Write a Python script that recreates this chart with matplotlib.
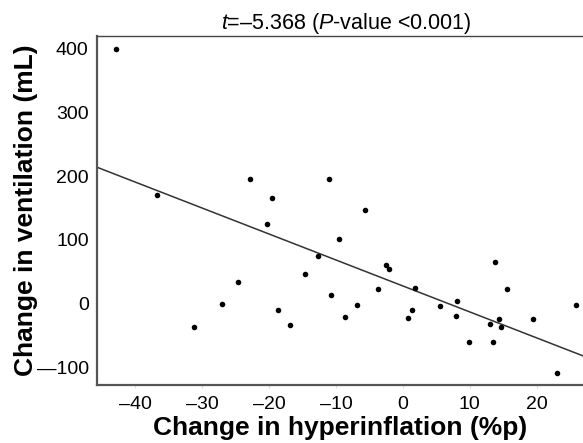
import matplotlib
matplotlib.use("Agg")
import matplotlib.pyplot as plt
import numpy as np

plt.rcParams['font.family'] = ['Liberation Sans', 'DejaVu Sans']
plt.rcParams['mathtext.fontset'] = 'custom'
plt.rcParams['mathtext.rm'] = 'Liberation Sans'
plt.rcParams['mathtext.it'] = 'Liberation Sans:italic'

# Data
hyperinflation = [-42.8, -36.7, -22.9, -19.5, -11.1, -5.7, -20.3, -9.6, -12.7, -14.6,
                  -24.6, -10.8, -27.1, -6.9, -18.7, -8.6, -16.8, -31.2, -2.5, -2.1,
                  -3.7, 1.8, 1.4, 0.8, 5.5, 8.1, 8.0, 9.9, 13.7, 15.6,
                  13.0, 14.3, 14.6, 13.4, 19.4, 23.0, 25.9]
ventilation = [400, 170, 195, 166, 195, 147, 125, 102, 75, 47,
               34, 14, -1, -2, -10.5, -21, -33, -37, 61, 54,
               23, 24, -10.5, -22.5, -4, 4.7, -20, -61, 65, 22.5,
               -32.5, -24.7, -37, -61, -24.7, -109, -2]
fit_slope = -4.08
fit_intercept = 27.5
x_ticks = [-40, -30, -20, -10, 0, 10, 20]
y_ticks = [-100, 0, 100, 200, 300, 400]
x_limits = (-45.7, 26.9)
y_limits = (-128, 420)

fig = plt.figure(figsize=(5.83, 4.43), dpi=100)
ax = fig.add_axes([0.1664, 0.1309, 1.0 - 0.1664, 0.9187 - 0.1309])

ax.scatter(hyperinflation, ventilation, s=16, color='black', zorder=3, linewidths=0)
xl = np.array(x_limits)
ax.plot(xl, fit_slope * xl + fit_intercept, color='#333333', lw=1.1, zorder=2)

ax.set_xlim(*x_limits)
ax.set_ylim(*y_limits)
ax.set_xticks(x_ticks)
ax.set_yticks(y_ticks)
ax.set_xticklabels([str(t).replace('-', '\u2013') for t in x_ticks])
ax.set_yticklabels([str(t).replace('-', '\u2014') for t in y_ticks])
ax.tick_params(axis='both', length=0, labelsize=14, colors='black', pad=6)
ax.tick_params(axis='x', length=2, color='#dddddd', pad=6)

for side in ['left', 'bottom']:
    ax.spines[side].set_color('#555555')
    ax.spines[side].set_linewidth(1.6)
ax.spines['top'].set_color('#444444')
ax.spines['top'].set_linewidth(1.0)
ax.spines['right'].set_visible(False)

ax.set_xlabel('Change in hyperinflation (%p)', fontsize=19, fontweight='bold')
ax.set_ylabel('Change in ventilation (mL)', fontsize=19, fontweight='bold')
ax.xaxis.set_label_coords(0.5, -0.09)
ax.yaxis.set_label_coords(-0.121, 0.5)

ax.set_title(r'$t$' + '=\u20135.368 (' + r'$P$' + '-value <0.001)', fontsize=15.5, x=0.512, pad=2)

fig.savefig('out.png', dpi=100)
